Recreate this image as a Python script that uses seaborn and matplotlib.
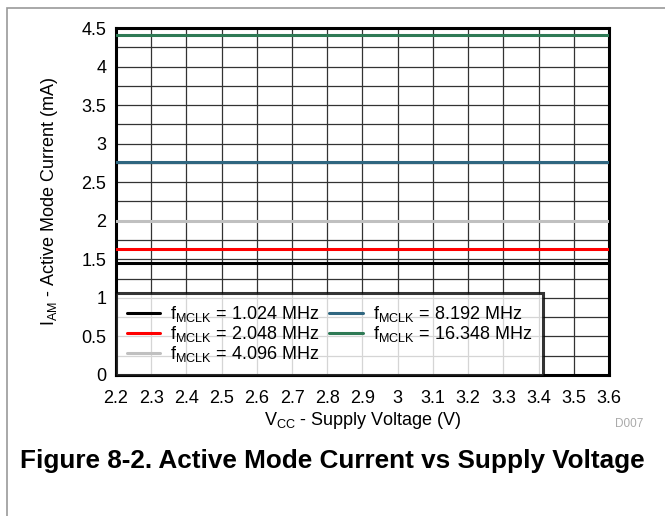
import numpy as np
import pandas as pd
import matplotlib
matplotlib.use("Agg")
import matplotlib.pyplot as plt
from matplotlib.patches import Rectangle
from matplotlib.ticker import MultipleLocator, FormatStrFormatter
import seaborn as sns

# Data (flat lines across the supply range)
voltage = [2.2, 3.6]
freq_labels = ["1.024", "2.048", "4.096", "8.192", "16.348"]
i_1024 = [1.45, 1.45]
i_2048 = [1.63, 1.63]
i_4096 = [2.0, 2.0]
i_8192 = [2.76, 2.76]
i_16348 = [4.41, 4.41]
colors = ["#000000", "#ff0000", "#c0c0c0", "#2f6680", "#2e7a55"]

sns.set_theme(style="white")
plt.rcParams["font.family"] = ["Liberation Sans", "DejaVu Sans"]
plt.rcParams["mathtext.fontset"] = "custom"
plt.rcParams["mathtext.rm"] = "Liberation Sans"
plt.rcParams["mathtext.it"] = "Liberation Sans"
for k in ["text.color", "axes.labelcolor", "xtick.color", "ytick.color"]:
    plt.rcParams[k] = "black"

rows = []
for lab, vals in zip(freq_labels, [i_1024, i_2048, i_4096, i_8192, i_16348]):
    name = r"f$_{\mathregular{MCLK}}$ = " + lab + " MHz"
    for v, c in zip(voltage, vals):
        rows.append({"Vcc": v, "Iam": c, "series": name})
df = pd.DataFrame(rows)
names = df["series"].unique().tolist()

fig = plt.figure(figsize=(6.65, 5.16), dpi=100)
ax = fig.add_axes([0.1744, 0.2733, 0.9158 - 0.1744, 0.9457 - 0.2733])

sns.lineplot(data=df, x="Vcc", y="Iam", hue="series", hue_order=names,
             palette=colors, linewidth=2.2, ax=ax, legend=True, zorder=3)

ax.set_xlim(2.2, 3.6)
ax.set_ylim(0, 4.5)
ax.xaxis.set_major_locator(MultipleLocator(0.1))
ax.yaxis.set_major_locator(MultipleLocator(0.5))
ax.yaxis.set_minor_locator(MultipleLocator(0.25))
ax.xaxis.set_major_formatter(FormatStrFormatter("%g"))
ax.yaxis.set_major_formatter(FormatStrFormatter("%g"))
ax.grid(True, which="both", color="#333333", linewidth=0.9)
ax.tick_params(axis="both", which="both", length=0, labelsize=13)
ax.tick_params(axis="x", pad=11)
ax.tick_params(axis="y", pad=7)
for s in ax.spines.values():
    s.set_visible(True)
    s.set_color("black")
    s.set_linewidth(2.2)

ax.set_xlabel(r"V$_{\mathregular{CC}}$ - Supply Voltage (V)", fontsize=13, labelpad=2)
ax.set_ylabel(r"I$_{\mathregular{AM}}$ - Active Mode Current (mA)", fontsize=13, labelpad=15)

leg = ax.legend(loc="lower left", bbox_to_anchor=(0, 0), ncol=2, fontsize=13,
                frameon=True, fancybox=False, borderaxespad=0, handlelength=1.85,
                columnspacing=0.55, labelspacing=0.0, handletextpad=0.55,
                borderpad=0.6)
leg.get_frame().set_edgecolor("black")
leg.get_frame().set_linewidth(2.2)
leg.set_zorder(5)

fig.text(0.968, 0.172, "D007", fontsize=8.5, color="#aaaaaa", ha="right")
fig.text(0.03, 0.093, "Figure 8-2. Active Mode Current vs Supply Voltage",
         fontsize=18.8, fontweight="bold", ha="left")

fig.patches.append(Rectangle((7 / 665, -0.1), 1.2, 1.1 - 8 / 516,
                             transform=fig.transFigure, fill=False,
                             edgecolor="#999999", linewidth=1.2))

fig.savefig("out.png", dpi=100)
